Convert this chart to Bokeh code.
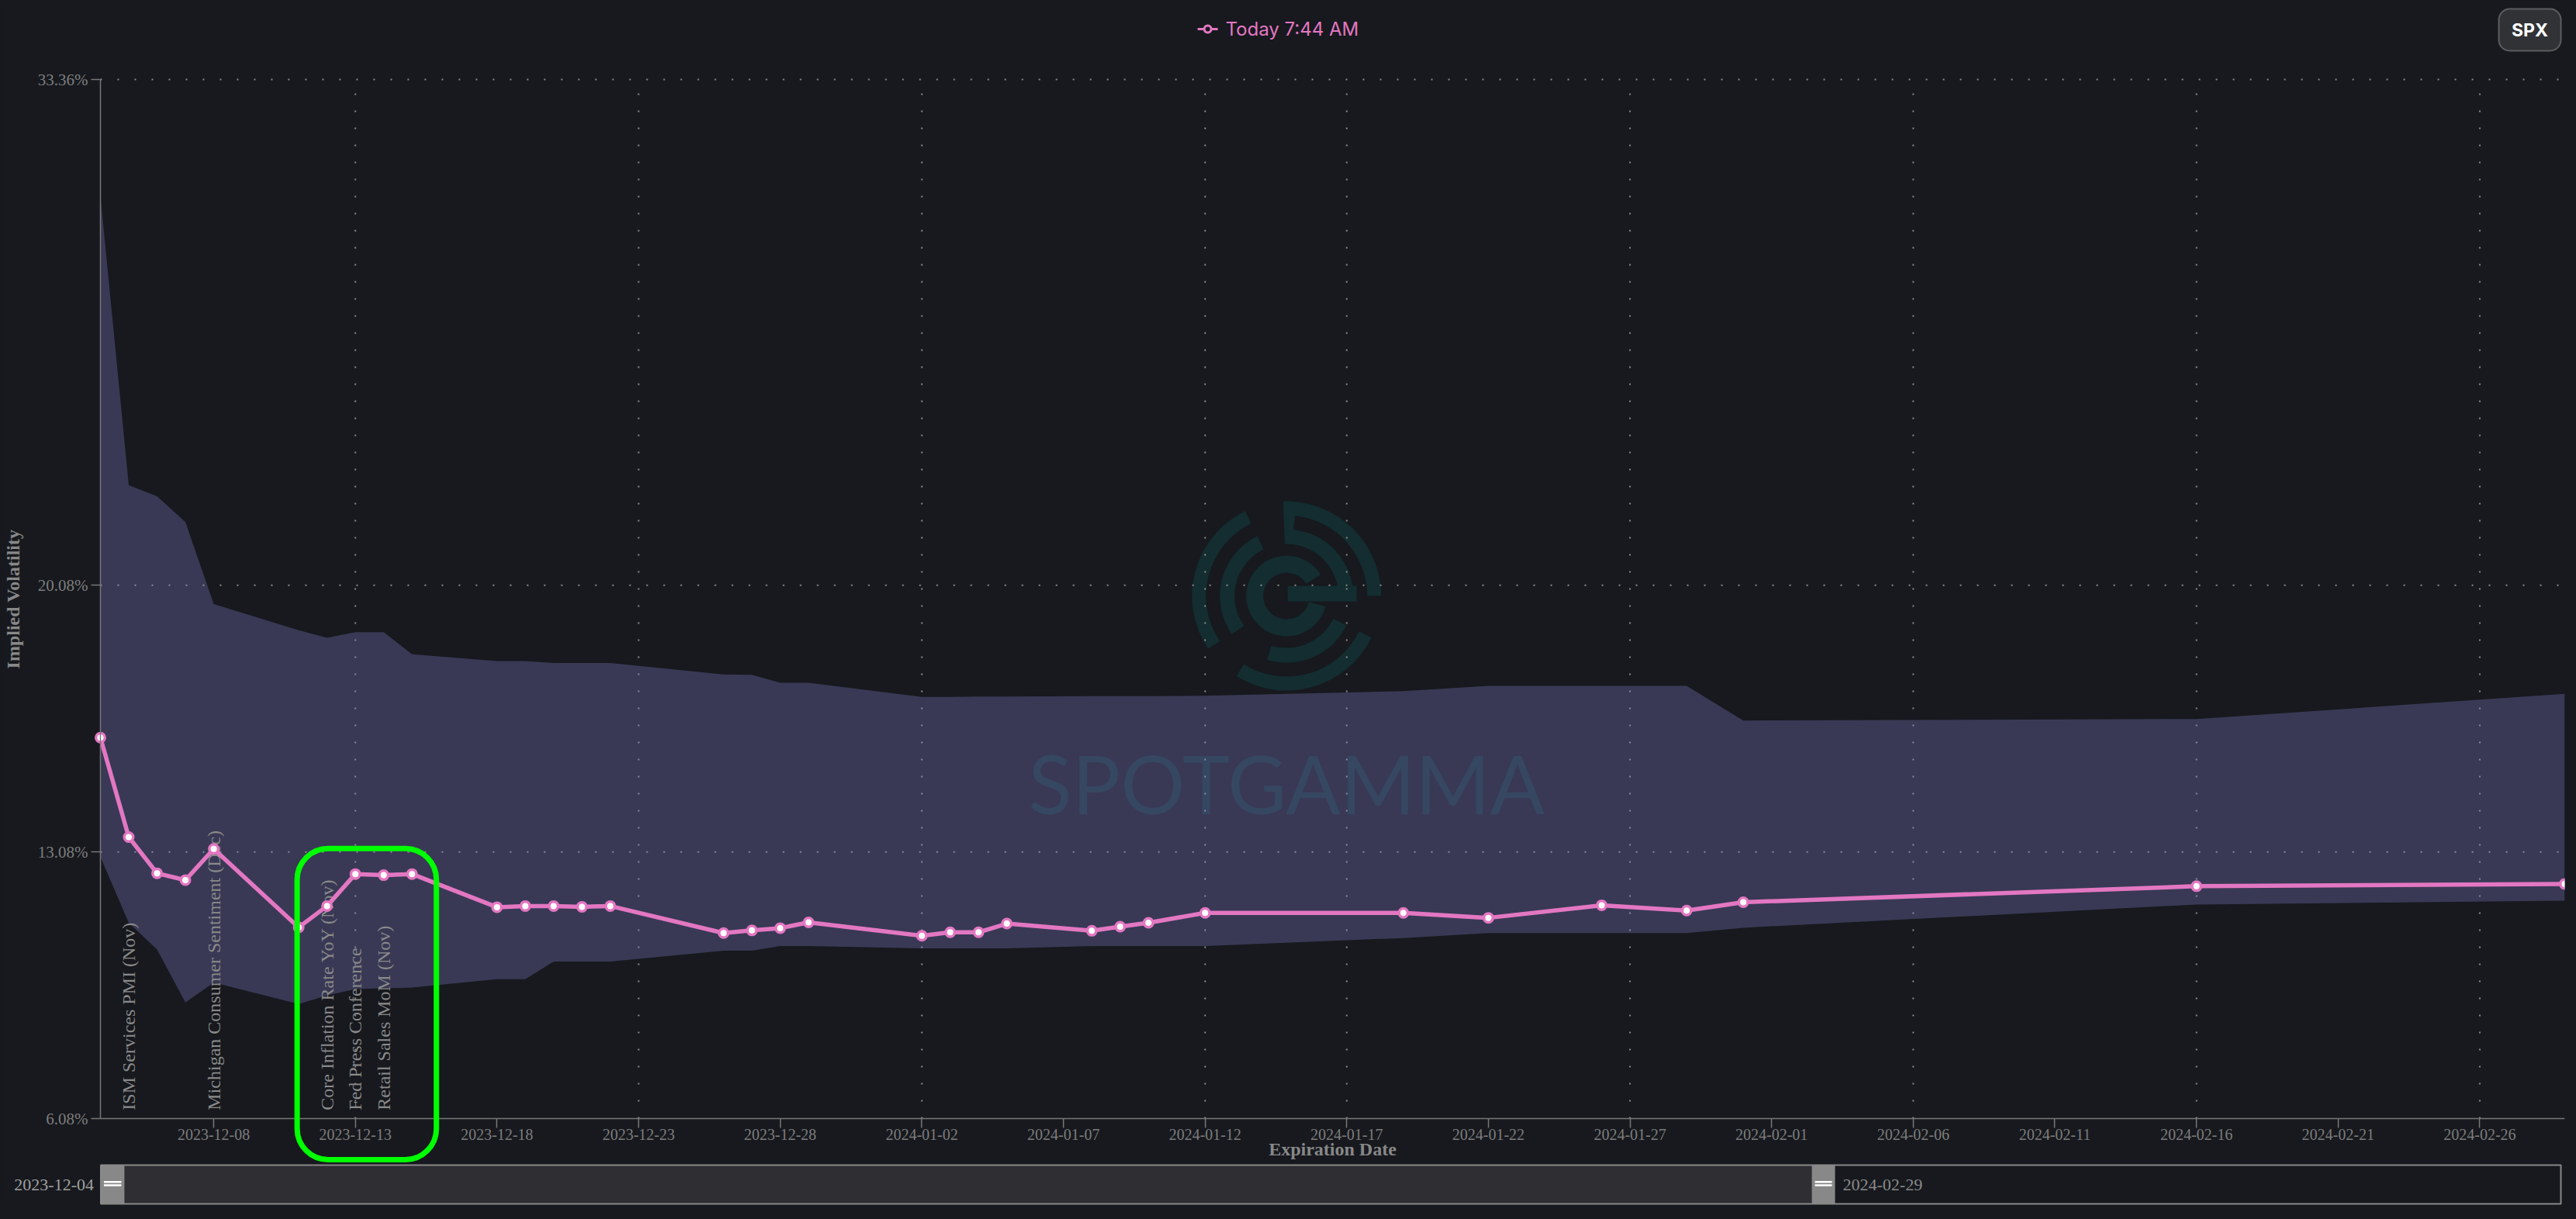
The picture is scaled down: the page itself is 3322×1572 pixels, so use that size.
import numpy as np
import pandas as pd
from bokeh.plotting import figure
from bokeh.models import (Range1d, FixedTicker, DatetimeTickFormatter, PrintfTickFormatter,
                          BoxAnnotation, ColumnDataSource)
from bokeh.core.properties import value
from bokeh.embed import file_html
from bokeh.resources import INLINE

# ---------------- data ----------------
expirations = [
    "2023-12-04", "2023-12-05", "2023-12-06", "2023-12-07", "2023-12-08",
    "2023-12-11", "2023-12-12", "2023-12-13", "2023-12-14", "2023-12-15",
    "2023-12-18", "2023-12-19", "2023-12-20", "2023-12-21", "2023-12-22",
    "2023-12-26", "2023-12-27", "2023-12-28", "2023-12-29",
    "2024-01-02", "2024-01-03", "2024-01-04", "2024-01-05",
    "2024-01-08", "2024-01-09", "2024-01-10", "2024-01-12",
    "2024-01-19", "2024-01-22", "2024-01-26", "2024-01-29", "2024-01-31",
    "2024-02-16", "2024-02-29",
]
iv_today = [16.08, 13.47, 12.52, 12.34, 13.16, 11.10, 11.66, 12.50, 12.47, 12.50,
            11.63, 11.66, 11.66, 11.64, 11.66, 10.95, 11.02, 11.08, 11.23,
            10.88, 10.97, 10.97, 11.20, 11.01, 11.12, 11.22, 11.48,
            11.48, 11.35, 11.68, 11.54, 11.76, 12.18, 12.24]
iv_high = [30.30, 22.71, 22.42, 21.74, 19.59, 18.90, 18.70, 18.85, 18.85, 18.27,
           18.09, 18.09, 18.04, 18.04, 18.04, 17.74, 17.73, 17.52, 17.52,
           17.15, 17.15, 17.16, 17.16, 17.17, 17.17, 17.17, 17.18,
           17.30, 17.44, 17.44, 17.44, 16.53, 16.57, 17.23]
iv_low = [12.95, 11.22, 10.52, 9.13, 9.65, 9.09, 9.31, 9.48, 9.50, 9.52,
          9.74, 9.74, 10.20, 10.20, 10.20, 10.49, 10.49, 10.61, 10.61,
          10.55, 10.55, 10.55, 10.55, 10.61, 10.61, 10.61, 10.61,
          10.82, 10.95, 10.95, 10.95, 11.09, 11.70, 11.80]

event_dates = ["2023-12-05", "2023-12-08", "2023-12-12", "2023-12-13", "2023-12-14"]
event_names = ["ISM Services PMI (Nov)", "Michigan Consumer Sentiment (Dec)",
               "Core Inflation Rate YoY (Nov)", "Fed Press Conference", "Retail Sales MoM (Nov)"]

x_tick_dates = ["2023-12-08", "2023-12-13", "2023-12-18", "2023-12-23", "2023-12-28",
                "2024-01-02", "2024-01-07", "2024-01-12", "2024-01-17", "2024-01-22",
                "2024-01-27", "2024-02-01", "2024-02-06", "2024-02-11", "2024-02-16",
                "2024-02-21", "2024-02-26"]
x_grid_dates = ["2023-12-13", "2023-12-23", "2024-01-02", "2024-01-12", "2024-01-17",
                "2024-01-27", "2024-02-06", "2024-02-16", "2024-02-26"]
y_ticks = [6.08, 13.08, 20.08, 33.36]

legend_label = "Today 7:44 AM"
symbol_label = "SPX"
watermark_text = "SPOTGAMMA"

# ---------------- style / layout ----------------
BG = "#17191e"
PINK = "#e377c2"
BAND = "#8884d8"
AXIS = "#777777"
TICK_TXT = "#7d7d7d"
LABEL_TXT = "#888888"
GRID = "#8a8a8a"
WM = "#132d30"
SERIF = "Liberation Serif"

W, H = 3314, 1556
B_RIGHT = 7
AXIS_X_PX, RIGHT_X_PX = 129, W - B_RIGHT    # window x of the y axis and of the last expiry
AXIS_TOP_PX, AXIS_BOTTOM_PX = 102, 1442     # window y of the 33.36% and 6.08% ticks
DAY_MS = 86400000.0


def ms(d):
    return pd.Timestamp(d).value / 1e6


x0, x1 = ms(expirations[0]), ms(expirations[-1])
PX_PER_DAY = (RIGHT_X_PX - AXIS_X_PX) / ((x1 - x0) / DAY_MS)
PX_PER_PCT = (AXIS_BOTTOM_PX - AXIS_TOP_PX) / (y_ticks[-1] - y_ticks[0])


def xd(px):
    """window x pixel -> data x"""
    return x0 + (px - AXIS_X_PX) / PX_PER_DAY * DAY_MS


def yd(py):
    """window y pixel -> data y"""
    return y_ticks[0] + (AXIS_BOTTOM_PX - py) / PX_PER_PCT


src = ColumnDataSource(dict(x=pd.to_datetime(expirations), iv=iv_today, lo=iv_low, hi=iv_high))

p = figure(width=W, height=H, x_axis_type="datetime",
           x_range=Range1d(xd(0), x1), y_range=Range1d(yd(H), yd(0)),
           output_backend="svg", toolbar_location=None,
           min_border_left=0, min_border_right=B_RIGHT,
           min_border_top=0, min_border_bottom=0)
p.background_fill_color = BG
p.border_fill_color = BG
p.outline_line_color = None

# ---------------- watermark (logo + name), beneath everything ----------------
LOGO_X, LOGO_Y, WM_TEXT_Y = ms("2024-01-14 21:00"), 19.8, 14.9
rings = [(104, 122, [(0, 92), (116, 214), (238, 334)]),
         (67, 86, [(-5, 90), (116, 215), (253, 334)]),
         (67, 122, [(84, 92)]),
         (30, 52, [(32, 345)])]
for r_in, r_out, arcs in rings:
    for a0, a1 in arcs:
        p.annular_wedge(x=LOGO_X, y=LOGO_Y, inner_radius=r_in, outer_radius=r_out,
                        inner_radius_units="screen", outer_radius_units="screen",
                        start_angle=np.radians(a0), end_angle=np.radians(a1),
                        fill_color=WM, line_color=None, level="image")
p.rect(x=LOGO_X + 46 / PX_PER_DAY * DAY_MS, y=LOGO_Y + 3 / PX_PER_PCT, width=89, height=20,
       width_units="screen", height_units="screen", fill_color=WM, line_color=None,
       level="image")
p.text(x=[LOGO_X], y=[WM_TEXT_Y], text=[watermark_text], text_align="center",
       text_baseline="middle", text_font=value("Lato"), text_font_size="104px",
       text_color=WM, level="image")

# ---------------- dotted grid, only inside the axes ----------------
gx = [ms(d) for d in x_grid_dates]
p.segment(x0=gx, y0=[y_ticks[0]] * len(gx), x1=gx, y1=[y_ticks[-1]] * len(gx),
          line_color=GRID, line_width=2, line_dash="2 20", level="underlay")
gy = y_ticks[1:]
p.segment(x0=[x0] * len(gy), y0=gy, x1=[x1] * len(gy), y1=gy,
          line_color=GRID, line_width=2, line_dash="2 20", level="underlay")
p.xgrid.visible = False
p.ygrid.visible = False

# ---------------- band, events, curve ----------------
p.varea(x="x", y1="lo", y2="hi", source=src, fill_color=BAND, fill_alpha=0.3)

ev_src = ColumnDataSource(dict(x=pd.to_datetime(event_dates), y=[6.30] * len(event_dates),
                               t=event_names))
p.text(x="x", y="y", text="t", source=ev_src, angle=np.pi / 2, text_align="left",
       text_baseline="alphabetic", text_font=value(SERIF), text_font_size="24px",
       text_color="#8a8a8a")

p.line(x="x", y="iv", source=src, line_color=PINK, line_width=5.5)
p.scatter(x="x", y="iv", source=src, size=11.5, fill_color="#ffffff", line_color=PINK,
          line_width=3.5)

# ---------------- axes ----------------
xa = p.xaxis[0]
xa.fixed_location = y_ticks[0]
xa.bounds = (x0, x1)
xa.ticker = FixedTicker(ticks=[ms(d) for d in x_tick_dates])
fmt = "%Y-%m-%d"
xa.formatter = DatetimeTickFormatter(days=fmt, months=fmt, years=fmt, hours=fmt)
xa.axis_label = "Expiration Date"
xa.axis_label_standoff = -4
xa.major_label_standoff = 1
xa.major_label_text_font_size = "20px"

ya = p.yaxis[0]
ya.fixed_location = x0
ya.bounds = (y_ticks[0], y_ticks[-1])
ya.ticker = FixedTicker(ticks=y_ticks)
ya.formatter = PrintfTickFormatter(format="%.2f%%")
ya.axis_label = "Implied Volatility"
ya.axis_label_standoff = 16
ya.major_label_standoff = 4
ya.major_label_text_font_size = "21px"

for ax in (xa, ya):
    ax.axis_line_color = AXIS
    ax.axis_line_width = 1.5
    ax.major_tick_line_color = AXIS
    ax.major_tick_line_width = 1.5
    ax.major_tick_out = 12
    ax.major_tick_in = 0
    ax.minor_tick_line_color = None
    ax.major_label_text_color = TICK_TXT
    ax.major_label_text_font = SERIF
    ax.axis_label_text_font = SERIF
    ax.axis_label_text_font_style = "bold"
    ax.axis_label_text_font_size = "24px"
    ax.axis_label_text_color = LABEL_TXT

# highlight box around the mid-December events
p.add_layout(BoxAnnotation(left=ms("2023-12-10 22:40"), right=ms("2023-12-15 20:40"),
                           top=13.17, bottom=5.0, fill_alpha=0, line_color="#00ff00",
                           line_alpha=1, line_width=7, border_radius=40, level="overlay"))

# ---------------- legend (top centre) ----------------
LEG_X0, LEG_X1, LEG_Y = 1544, 1570, 37
p.line(x=[xd(LEG_X0), xd(LEG_X1)], y=[yd(LEG_Y)] * 2, line_color=PINK, line_width=3)
p.scatter(x=[xd((LEG_X0 + LEG_X1) / 2)], y=[yd(LEG_Y)], size=9, fill_color=BG,
          line_color=PINK, line_width=3)
p.text(x=[xd(LEG_X1 + 10)], y=[yd(LEG_Y)], text=[legend_label], text_align="left",
       text_baseline="middle", text_font=value("Inter"), text_font_size="24px",
       text_color=PINK)

# ---------------- symbol button (top right) ----------------
BTN_L, BTN_R, BTN_T, BTN_B = 3222, 3302, 11, 65
p.add_layout(BoxAnnotation(left=xd(BTN_L), right=xd(BTN_R), top=yd(BTN_T), bottom=yd(BTN_B),
                           fill_color="#303236", fill_alpha=1, line_color="#5b5d61",
                           line_alpha=1, line_width=2, border_radius=14, level="underlay"))
p.text(x=[xd((BTN_L + BTN_R) / 2)], y=[yd((BTN_T + BTN_B) / 2)], text=[symbol_label],
       text_align="center", text_baseline="middle", text_font=value("Inter"),
       text_font_style="bold", text_font_size="23px", text_color="#ffffff")

# ---------------- range slider (bottom) ----------------
SL_L, SL_R, SL_T, SL_B, SL_MID = 129.5, 3302, 1502, 1552, 1527
H1_L, H1_R = 129.5, 160
H2_L, H2_R = 2336, 2366
p.quad(left=[xd(H1_R)], right=[xd(H2_L)], top=[yd(SL_T)], bottom=[yd(SL_B)],
       fill_color="#2e2e33", line_color=None)
p.quad(left=[xd(SL_L)], right=[xd(SL_R)], top=[yd(SL_T)], bottom=[yd(SL_B)],
       fill_color=None, line_color="#888888", line_width=2)
p.quad(left=[xd(H1_L), xd(H2_L)], right=[xd(H1_R), xd(H2_R)],
       top=[yd(SL_T)] * 2, bottom=[yd(SL_B)] * 2, fill_color="#888888", line_color=None)
for hl, hr in ((H1_L, H1_R), (H2_L, H2_R)):
    p.multi_line(xs=[[xd(hl + 4), xd(hr - 4)]] * 2,
                 ys=[[yd(SL_MID - 3.3)] * 2, [yd(SL_MID + 1)] * 2],
                 line_color="#ffffff", line_width=2.5)
p.text(x=[xd(H1_L - 9)], y=[yd(SL_MID)], text=[expirations[0]], text_align="right",
       text_baseline="middle", text_font=value(SERIF), text_font_size="22px",
       text_color="#a0a0a0")
p.text(x=[xd(H2_R + 10)], y=[yd(SL_MID)], text=[expirations[-1]], text_align="left",
       text_baseline="middle", text_font=value(SERIF), text_font_size="22px",
       text_color="#8a8a8a")

html = file_html(p, INLINE, title="Implied Volatility Term Structure")
html = html.replace("</head>", "<style>html,body{background:%s;}</style></head>" % BG, 1)
open("out.html", "w").write(html)
